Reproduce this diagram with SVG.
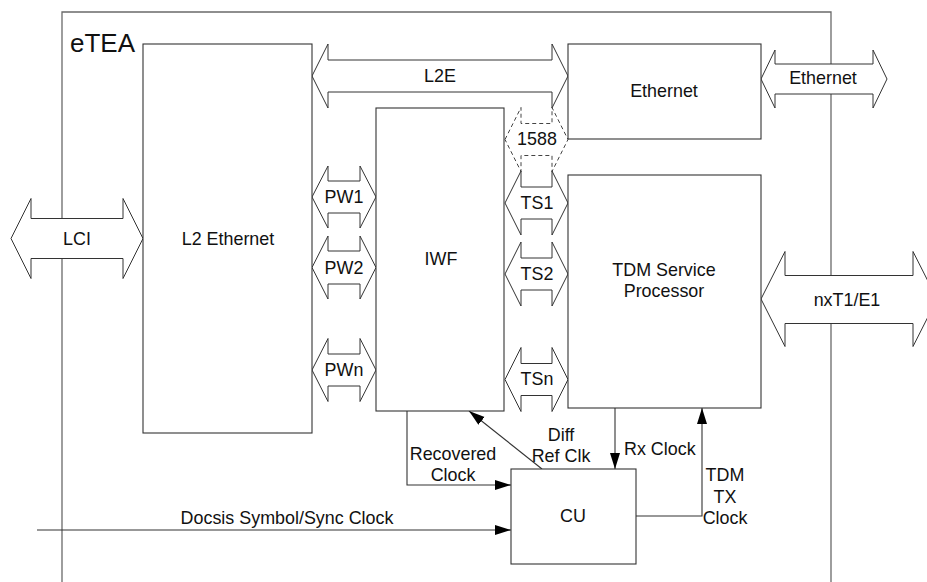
<svg xmlns="http://www.w3.org/2000/svg" width="927" height="582" viewBox="0 0 927 582">
<style>
.frame{fill:none;stroke:#6a6a6a;stroke-width:1.3}
.box{fill:#fff;stroke:#333;stroke-width:1.1}
.dbl{fill:#fff;stroke:#333;stroke-width:1}
.dash{fill:#fff;stroke:#444;stroke-width:1;stroke-dasharray:4 3}
.wire{fill:none;stroke:#333;stroke-width:1.1}
text{font-family:"Liberation Sans",Arial,sans-serif;font-size:17.9px;fill:#111}
.mid{text-anchor:middle}
</style>
<defs>
<marker id="ah" markerUnits="userSpaceOnUse" markerWidth="17" markerHeight="11" refX="16" refY="5" orient="auto">
<path d="M0,0 L16,5 L0,10 Z" fill="#000"/>
</marker>
</defs>
<g id="eTEA">
<path class="frame" d="M62,582 V12 H831 V582"/>
<text x="70" y="52" style="font-size:26px">eTEA</text>
</g>
<g id="connectors">
<path id="L2E" class="dbl" d="M312,76 L328,44 L328,60 L552,60 L552,44 L568,76 L552,108 L552,92 L328,92 L328,108 Z"/>
<path id="ext-eth" class="dbl" d="M761,79 L775,50 L775,64 L873,64 L873,50 L887,79 L873,108 L873,94 L775,94 L775,108 Z"/>
<path id="nxT1" class="dbl" d="M761,299 L785,251.5 L785,275.5 L913,275.5 L913,251.5 L937,299 L913,346.5 L913,323.5 L785,323.5 L785,346.5 Z"/>
<path id="LCI" class="dbl" d="M11,238.5 L31,198.5 L31,218.5 L123,218.5 L123,198.5 L143,238.5 L123,278.5 L123,258.5 L31,258.5 L31,278.5 Z"/>
<path id="p1588" class="dash" d="M505,139.5 L521,107.5 L521,123.5 L552,123.5 L552,107.5 L568,139.5 L552,171.5 L552,155.5 L521,155.5 L521,171.5 Z"/>
<path id="TS1" class="dbl" d="M505,203 L521,171 L521,187 L552,187 L552,171 L568,203 L552,235 L552,219 L521,219 L521,235 Z"/>
<path id="TS2" class="dbl" d="M505,274 L521,242 L521,258 L552,258 L552,242 L568,274 L552,306 L552,290 L521,290 L521,306 Z"/>
<path id="TSn" class="dbl" d="M505,379.5 L521,347.5 L521,363.5 L552,363.5 L552,347.5 L568,379.5 L552,411.5 L552,395.5 L521,395.5 L521,411.5 Z"/>
<path id="PW1" class="dbl" d="M312,197 L328,166 L328,181 L360,181 L360,166 L376,197 L360,228 L360,213 L328,213 L328,228 Z"/>
<path id="PW2" class="dbl" d="M312,267.5 L328,236 L328,251 L360,251 L360,236 L376,267.5 L360,299 L360,284 L328,284 L328,299 Z"/>
<path id="PWn" class="dbl" d="M312,370 L328,338.5 L328,354 L360,354 L360,338.5 L376,370 L360,401.5 L360,386 L328,386 L328,401.5 Z"/>
<polyline class="wire" points="407,411 407,485 511,485" marker-end="url(#ah)"/>
<line class="wire" x1="37" y1="530" x2="511" y2="530" marker-end="url(#ah)"/>
<line class="wire" x1="542" y1="469" x2="469" y2="411" marker-end="url(#ah)"/>
<line class="wire" x1="615" y1="408" x2="615" y2="469" marker-end="url(#ah)"/>
<polyline class="wire" points="636,516 702,516 702,408" marker-end="url(#ah)"/>
<text class="mid" x="440" y="81.5">L2E</text>
<text class="mid" x="823" y="84">Ethernet</text>
<text class="mid" x="847" y="306">nxT1/E1</text>
<text class="mid" x="77" y="244.5">LCI</text>
<text class="mid" x="537" y="145">1588</text>
<text class="mid" x="537" y="209">TS1</text>
<text class="mid" x="537" y="279.5">TS2</text>
<text class="mid" x="537" y="384.5">TSn</text>
<text class="mid" x="344" y="203">PW1</text>
<text class="mid" x="344" y="273.5">PW2</text>
<text class="mid" x="344" y="376">PWn</text>
<text class="mid" x="453" y="460">Recovered</text>
<text class="mid" x="453" y="481">Clock</text>
<text class="mid" x="287" y="524">Docsis Symbol/Sync Clock</text>
<text class="mid" x="561" y="441">Diff</text>
<text class="mid" x="561" y="462">Ref Clk</text>
<text x="624" y="455">Rx Clock</text>
<text class="mid" x="725" y="481">TDM</text>
<text class="mid" x="725" y="502.5">TX</text>
<text class="mid" x="725" y="524">Clock</text>
</g>
<g id="L2Ethernet">
<rect class="box" x="143" y="44" width="169" height="389"/>
<text class="mid" x="228" y="244.5">L2 Ethernet</text>
</g>
<g id="Ethernet">
<rect class="box" x="568" y="44" width="193" height="95"/>
<text class="mid" x="664" y="97">Ethernet</text>
</g>
<g id="IWF">
<rect class="box" x="376" y="108" width="128" height="303"/>
<text class="mid" x="441" y="265">IWF</text>
</g>
<g id="TDM">
<rect class="box" x="568" y="175" width="193" height="233"/>
<text class="mid" x="664" y="276">TDM Service</text>
<text class="mid" x="664" y="297">Processor</text>
</g>
<g id="CU">
<rect class="box" x="511" y="469" width="125" height="95"/>
<text class="mid" x="573" y="522">CU</text>
</g>
</svg>
